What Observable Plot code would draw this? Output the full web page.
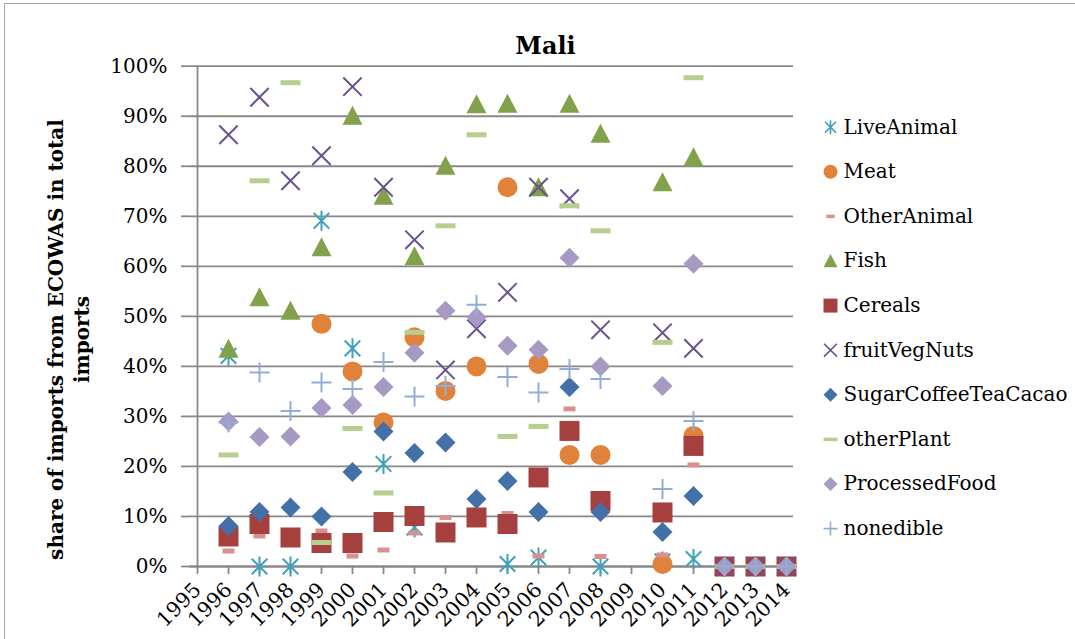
<!DOCTYPE html>
<html><head><meta charset="utf-8">
<script src="https://cdn.jsdelivr.net/npm/d3@7"></script>
<script src="https://cdn.jsdelivr.net/npm/@observablehq/plot@0.6"></script>
<style>
html,body{margin:0;padding:0;background:#fff;}
#chart{position:relative;width:1075px;height:639px;overflow:hidden;}
#chart svg{display:block;}
#border{position:absolute;left:4px;top:3px;width:1080px;height:650px;border-left:1.5px solid #a6a6a6;border-top:1.5px solid #a6a6a6;pointer-events:none;}
</style></head><body><div id="chart"><div id="border"></div></div>
<script>
const years = ["1995","1996","1997","1998","1999","2000","2001","2002","2003","2004","2005","2006","2007","2008","2009","2010","2011","2012","2013","2014"];
const seriesNames = ["LiveAnimal","Meat","OtherAnimal","Fish","Cereals","fruitVegNuts","SugarCoffeeTeaCacao","otherPlant","ProcessedFood","nonedible"];
const yTicks = [0,0.1,0.2,0.3,0.4,0.5,0.6,0.7,0.8,0.9,1];
const chartTitle = "Mali";
const yLabel = "share of imports from ECOWAS in total\nimports";

const liveAnimal   = [null,0.421,0,0,0.691,0.436,0.205,0.078,null,null,0.005,0.018,null,0,null,0.01,0.015,0,0,0];
const meat         = [null,null,null,null,0.485,0.39,0.288,0.458,0.351,0.40,0.758,0.405,0.223,0.223,null,0.005,0.261,0,0,0];
const otherAnimal  = [null,0.031,0.061,0.121,0.071,0.021,0.033,0.067,0.098,0.137,0.106,0.021,0.315,0.02,null,0.023,0.203,0,0,0];
const fish         = [null,0.435,0.538,0.511,0.638,0.901,0.741,0.62,0.801,0.924,0.925,0.758,0.925,0.865,null,0.768,0.818,0,0,0];
const cereals      = [null,0.06,0.085,0.058,0.047,0.047,0.089,0.101,0.068,0.098,0.085,0.178,0.271,0.131,null,0.108,0.241,0,0,0];
const fruitVegNuts = [null,0.863,0.938,0.771,0.821,0.959,0.758,0.653,0.393,0.475,0.548,0.758,0.735,0.473,null,0.467,0.436,0,0,0];
const sugarCoffee  = [null,0.081,0.109,0.118,0.10,0.189,0.27,0.227,0.248,0.135,0.171,0.109,0.359,0.109,null,0.069,0.141,0,0,0];
const otherPlant   = [null,0.223,0.771,0.967,0.048,0.276,0.147,0.468,0.681,0.863,0.26,0.28,0.721,0.671,null,0.448,0.977,0,0,0];
const processed    = [null,0.29,0.259,0.26,0.317,0.323,0.359,0.427,0.511,0.498,0.441,0.433,0.617,0.40,null,0.361,0.605,0,0,0];
const nonedible    = [null,0.288,0.388,0.311,0.368,0.355,0.409,0.34,0.361,0.523,0.379,0.348,0.395,0.375,null,0.155,0.291,0,0,0];

const seriesValues = [liveAnimal,meat,otherAnimal,fish,cereals,fruitVegNuts,sugarCoffee,otherPlant,processed,nonedible];

// custom marker shapes
const hw = s => Math.sqrt(s/Math.PI);
const sym = {
  asterisk: {draw(c,s){const h=hw(s),d=h*0.78;c.moveTo(0,-h);c.lineTo(0,h);c.moveTo(-d,-d);c.lineTo(d,d);c.moveTo(-d,d);c.lineTo(d,-d);}},
  circle: {draw(c,s){const h=hw(s);c.moveTo(h,0);c.arc(0,0,h,0,2*Math.PI);c.closePath();}},
  shortDash: {draw(c,s){const h=hw(s);c.rect(-0.6*h,-0.25*h,1.2*h,0.5*h);}},
  triangle: {draw(c,s){const h=hw(s);c.moveTo(0,-h);c.lineTo(h,h*0.9);c.lineTo(-h,h*0.9);c.closePath();}},
  square: {draw(c,s){const h=hw(s);c.rect(-h,-h,2*h,2*h);}},
  times: {draw(c,s){const h=hw(s)*0.92;c.moveTo(-h,-h);c.lineTo(h,h);c.moveTo(-h,h);c.lineTo(h,-h);}},
  diamond: {draw(c,s){const h=hw(s);c.moveTo(0,-h);c.lineTo(h,0);c.lineTo(0,h);c.lineTo(-h,0);c.closePath();}},
  longDash: {draw(c,s){const h=hw(s);c.rect(-h,-0.25*h,2*h,0.5*h);}},
  plus: {draw(c,s){const h=hw(s);c.moveTo(0,-h);c.lineTo(0,h);c.moveTo(-h,0);c.lineTo(h,0);}}
};
const styles = [
  {symbol: sym.asterisk, fill:"none", stroke:"#40A2BA", sw:2},
  {symbol: sym.circle, fill:"#E0823A", stroke:"none"},
  {symbol: sym.shortDash, fill:"#D9918F", stroke:"none"},
  {symbol: sym.triangle, fill:"#82A14B", stroke:"none"},
  {symbol: sym.square, fill:"#A5403F", stroke:"none"},
  {symbol: sym.times, fill:"none", stroke:"#6A5290", sw:2},
  {symbol: sym.diamond, fill:"#4470A8", stroke:"none"},
  {symbol: sym.longDash, fill:"#B6CF8F", stroke:"none"},
  {symbol: sym.diamond, fill:"#A699C2", stroke:"none"},
  {symbol: sym.plus, fill:"none", stroke:"#92AED6", sw:2}
];

const mL = 189, plotRight = 793, mT = 65.7, plotBottom = 566;
const W = 1075, H = 639;
const gray = "#888888";

const marks = [
  Plot.gridY(yTicks, {stroke: gray, strokeOpacity: 1, strokeWidth: 1.8}),
  Plot.ruleX([years[0]], {stroke: gray, strokeWidth: 1.8}),
  Plot.axisY(yTicks, {tickFormat: d3.format(".0%"), tickSize: 8, tickPadding: 14, stroke: gray, strokeWidth: 1.8, fill: "#000", fontSize: 20, label: null}),
  Plot.axisX(years, {tickRotate: -45, tickSize: 8, tickPadding: 12, stroke: gray, strokeWidth: 1.8, fill: "#000", fontSize: 20.5, label: null}),
  Plot.ruleY([0], {stroke: gray, strokeWidth: 1.8})
];

seriesNames.forEach((name, k) => {
  const st = styles[k];
  const data = years.map((yr, i) => ({year: yr, value: seriesValues[k][i]})).filter(d => d.value != null);
  marks.push(Plot.dot(data, {x: "year", y: "value", symbol: st.symbol, r: 10, fill: st.fill, stroke: st.stroke, strokeWidth: st.sw || 0}));
});

// legend
const legX = 830, legTextX = 843, legY0 = 126.7, legStep = 44.6;
seriesNames.forEach((name, k) => {
  const st = styles[k];
  marks.push(Plot.dot([name], {frameAnchor: "top-left", dx: legX - mL, dy: legY0 + k*legStep - mT, symbol: st.symbol, r: 7, fill: st.fill, stroke: st.stroke, strokeWidth: st.sw ? 1.6 : 0}));
  marks.push(Plot.text([name], {frameAnchor: "top-left", text: d => d, dx: legTextX - mL, dy: legY0 + k*legStep - mT, textAnchor: "start", lineAnchor: "middle", fontSize: 20, fill: "#000"}));
});

marks.push(Plot.text([chartTitle], {frameAnchor: "top-left", text: d => d, dx: 545 - mL, dy: 46 - mT, textAnchor: "middle", lineAnchor: "middle", fontSize: 24, fontWeight: "bold", fill: "#000"}));
marks.push(Plot.text([yLabel], {frameAnchor: "top-left", text: d => d, dx: 67 - mL, dy: 339 - mT, rotate: -90, textAnchor: "middle", lineAnchor: "middle", lineHeight: 1.3, fontSize: 20, fontWeight: "bold", fill: "#000"}));

const chart = Plot.plot({
  width: W, height: H,
  marginLeft: mL, marginRight: W - plotRight, marginTop: mT, marginBottom: H - plotBottom,
  style: {fontFamily: "'DejaVu Serif', serif", fontSize: "20px", background: "#fff", color: "#000", overflow: "visible"},
  x: {type: "point", domain: years, padding: 0, axis: null},
  y: {domain: [0, 1], axis: null},
  marks
});
document.getElementById("chart").prepend(chart);
</script>
</body></html>
